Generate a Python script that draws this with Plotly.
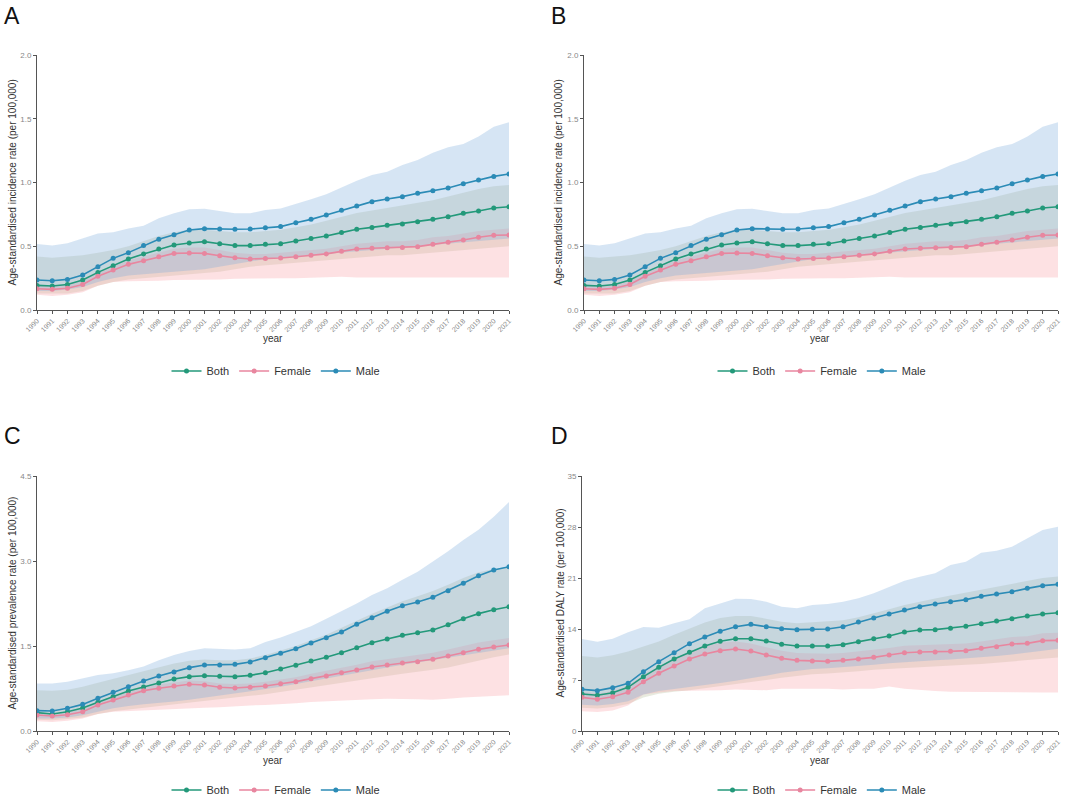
import plotly.graph_objects as go

years = list(range(1990, 2022))

# ---------- Incidence (panels A and B) ----------
inc_both = [0.193,0.188,0.2,0.235,0.295,0.348,0.4,0.44,0.478,0.51,0.525,0.536,0.52,0.505,0.505,0.515,0.52,0.541,0.56,0.58,0.607,0.633,0.648,0.664,0.675,0.693,0.711,0.732,0.758,0.776,0.8,0.81]
inc_female = [0.167,0.162,0.17,0.2,0.264,0.314,0.358,0.387,0.418,0.444,0.447,0.444,0.426,0.41,0.4,0.403,0.408,0.418,0.429,0.44,0.46,0.478,0.484,0.489,0.491,0.497,0.515,0.531,0.549,0.57,0.586,0.588]
inc_male = [0.235,0.23,0.24,0.275,0.34,0.405,0.45,0.505,0.555,0.59,0.627,0.638,0.635,0.633,0.635,0.646,0.654,0.685,0.711,0.745,0.782,0.816,0.85,0.871,0.889,0.915,0.936,0.957,0.991,1.02,1.048,1.067]
inc_both_lo = [0.13,0.13,0.13,0.15,0.19,0.22,0.24,0.25,0.26,0.27,0.28,0.29,0.30,0.32,0.34,0.35,0.36,0.37,0.38,0.39,0.40,0.41,0.42,0.43,0.43,0.44,0.45,0.46,0.47,0.48,0.49,0.50]
inc_both_hi = [0.42,0.41,0.42,0.43,0.45,0.47,0.50,0.54,0.58,0.61,0.63,0.63,0.62,0.61,0.61,0.62,0.63,0.65,0.67,0.70,0.73,0.76,0.78,0.80,0.82,0.84,0.86,0.89,0.92,0.95,0.97,0.98]
inc_female_lo = [0.12,0.11,0.12,0.14,0.19,0.22,0.225,0.23,0.23,0.235,0.235,0.24,0.24,0.245,0.245,0.25,0.25,0.25,0.255,0.255,0.26,0.255,0.25,0.25,0.25,0.25,0.25,0.25,0.25,0.255,0.255,0.255]
inc_female_hi = [0.20,0.19,0.20,0.23,0.29,0.34,0.39,0.42,0.45,0.48,0.49,0.49,0.47,0.45,0.44,0.44,0.45,0.46,0.47,0.48,0.50,0.52,0.53,0.54,0.54,0.55,0.57,0.58,0.60,0.62,0.63,0.64]
inc_male_lo = [0.15,0.15,0.16,0.18,0.22,0.25,0.27,0.28,0.29,0.30,0.31,0.32,0.34,0.36,0.38,0.40,0.41,0.42,0.43,0.44,0.45,0.46,0.47,0.48,0.49,0.50,0.51,0.52,0.53,0.54,0.55,0.56]
inc_male_hi = [0.518,0.505,0.523,0.56,0.6,0.61,0.64,0.66,0.72,0.758,0.79,0.795,0.776,0.758,0.758,0.784,0.797,0.831,0.868,0.907,0.96,1.014,1.059,1.085,1.137,1.176,1.234,1.276,1.302,1.36,1.438,1.472]

# ---------- Prevalence (panel C) ----------
prev_both = [0.324,0.3,0.341,0.406,0.506,0.606,0.706,0.776,0.847,0.918,0.959,0.976,0.965,0.959,0.982,1.029,1.094,1.159,1.235,1.3,1.382,1.471,1.559,1.624,1.688,1.735,1.782,1.876,1.982,2.071,2.141,2.194]
prev_female = [0.282,0.265,0.288,0.341,0.459,0.547,0.635,0.712,0.753,0.794,0.824,0.812,0.771,0.759,0.771,0.794,0.835,0.871,0.924,0.971,1.029,1.076,1.129,1.165,1.2,1.224,1.265,1.324,1.382,1.441,1.482,1.518]
prev_male = [0.359,0.353,0.4,0.47,0.576,0.682,0.782,0.882,0.97,1.041,1.118,1.165,1.165,1.176,1.218,1.294,1.371,1.453,1.553,1.647,1.747,1.882,2.0,2.112,2.212,2.276,2.359,2.476,2.606,2.741,2.841,2.9]
prev_both_lo = [0.20,0.19,0.21,0.24,0.30,0.35,0.39,0.42,0.45,0.48,0.51,0.54,0.56,0.59,0.62,0.65,0.68,0.72,0.76,0.80,0.85,0.89,0.93,0.97,1.01,1.05,1.08,1.12,1.18,1.24,1.30,1.35]
prev_both_hi = [0.72,0.71,0.73,0.78,0.85,0.92,0.99,1.06,1.13,1.19,1.24,1.26,1.25,1.25,1.28,1.34,1.42,1.50,1.60,1.70,1.82,1.95,2.07,2.18,2.29,2.38,2.47,2.58,2.70,2.80,2.86,2.90]
prev_female_lo = [0.17,0.16,0.18,0.22,0.30,0.34,0.36,0.37,0.38,0.39,0.40,0.41,0.42,0.43,0.45,0.46,0.47,0.49,0.51,0.52,0.54,0.55,0.56,0.57,0.57,0.56,0.55,0.57,0.59,0.61,0.62,0.63]
prev_female_hi = [0.33,0.31,0.34,0.39,0.51,0.60,0.69,0.77,0.82,0.86,0.89,0.88,0.84,0.83,0.84,0.87,0.91,0.95,1.01,1.06,1.12,1.17,1.23,1.27,1.31,1.34,1.38,1.44,1.50,1.56,1.60,1.64]
prev_male_lo = [0.22,0.22,0.24,0.28,0.34,0.40,0.44,0.47,0.50,0.52,0.55,0.58,0.62,0.66,0.70,0.74,0.78,0.82,0.87,0.92,0.97,1.02,1.07,1.12,1.17,1.21,1.25,1.29,1.34,1.38,1.42,1.46]
prev_male_hi = [0.84,0.84,0.87,0.93,0.99,1.02,1.07,1.14,1.25,1.34,1.41,1.46,1.45,1.44,1.46,1.57,1.65,1.75,1.85,1.98,2.11,2.25,2.40,2.52,2.67,2.81,2.99,3.17,3.37,3.55,3.78,4.04]

# ---------- DALY (panel D) ----------
daly_both = [5.08,4.9,5.26,5.99,7.46,8.74,9.88,10.8,11.67,12.31,12.67,12.67,12.35,11.9,11.67,11.67,11.67,11.85,12.26,12.67,13.04,13.59,13.86,13.91,14.09,14.37,14.73,15.1,15.42,15.78,16.06,16.24]
daly_female = [4.62,4.35,4.71,5.31,6.77,7.92,8.92,9.88,10.57,11.03,11.25,10.98,10.43,9.97,9.7,9.61,9.56,9.7,9.88,10.11,10.43,10.75,10.84,10.84,10.93,11.03,11.35,11.57,11.94,12.03,12.4,12.44]
daly_male = [5.72,5.54,5.95,6.54,8.14,9.52,10.75,11.99,12.9,13.68,14.32,14.64,14.32,14.05,13.91,13.95,14.0,14.32,14.96,15.51,16.06,16.61,17.07,17.43,17.75,18.03,18.48,18.8,19.12,19.58,19.95,20.13]
daly_both_lo = [3.2,3.1,3.3,3.7,4.6,5.1,5.4,5.6,5.8,6.1,6.4,6.7,7.0,7.3,7.6,7.8,7.9,8.0,8.2,8.4,8.6,8.7,8.8,8.9,9.0,9.1,9.2,9.3,9.5,9.7,9.9,10.1]
daly_both_hi = [10.3,10.1,10.4,10.9,11.6,12.3,13.2,14.0,14.9,15.5,15.8,15.8,15.4,15.0,14.8,14.9,15.0,15.2,15.6,16.1,16.7,17.3,17.8,18.2,18.6,19.0,19.4,19.9,20.3,20.7,21.0,21.2]
daly_female_lo = [2.7,2.6,2.8,3.5,5.0,5.3,5.5,5.6,5.6,5.6,5.7,5.7,5.6,5.8,5.9,5.8,5.8,5.7,5.8,5.8,6.1,5.8,5.6,5.5,5.4,5.3,5.3,5.3,5.3,5.3,5.3,5.3]
daly_female_hi = [5.4,5.1,5.5,6.2,7.7,8.9,9.9,10.9,11.6,12.1,12.3,12.0,11.5,11.0,10.7,10.6,10.6,10.7,10.9,11.1,11.4,11.7,11.8,11.8,11.9,12.0,12.3,12.6,12.9,13.0,13.4,13.5]
daly_male_lo = [3.6,3.5,3.7,4.1,5.0,5.5,5.8,6.0,6.3,6.6,6.9,7.2,7.6,8.0,8.3,8.5,8.6,8.7,8.9,9.1,9.3,9.5,9.6,9.7,9.8,9.9,10.1,10.3,10.5,10.7,11.0,11.3]
daly_male_hi = [12.63,12.26,12.67,13.54,14.27,14.18,14.78,15.33,16.84,17.52,18.16,18.12,17.75,17.07,16.84,17.29,17.43,17.75,18.21,18.9,19.81,20.63,21.18,21.64,22.78,23.24,24.48,24.75,25.3,26.44,27.59,28.05]

panel_labels = ["A", "B", "C", "D"]
y_titles = ["Age-standardised incidence rate (per 100,000)",
            "Age-standardised incidence rate (per 100,000)",
            "Age-standardised prevalence rate (per 100,000)",
            "Age-standardised DALY rate (per 100,000)"]
y_ticks = [[0.0, 0.5, 1.0, 1.5, 2.0], [0.0, 0.5, 1.0, 1.5, 2.0],
           [0.0, 1.5, 3.0, 4.5], [0, 7, 14, 21, 28, 35]]
y_ticktext = [["0.0", "0.5", "1.0", "1.5", "2.0"], ["0.0", "0.5", "1.0", "1.5", "2.0"],
              ["0.0", "1.5", "3.0", "4.5"], ["0", "7", "14", "21", "28", "35"]]

panels = [
    {"Both": (inc_both, inc_both_lo, inc_both_hi), "Female": (inc_female, inc_female_lo, inc_female_hi), "Male": (inc_male, inc_male_lo, inc_male_hi)},
    {"Both": (inc_both, inc_both_lo, inc_both_hi), "Female": (inc_female, inc_female_lo, inc_female_hi), "Male": (inc_male, inc_male_lo, inc_male_hi)},
    {"Both": (prev_both, prev_both_lo, prev_both_hi), "Female": (prev_female, prev_female_lo, prev_female_hi), "Male": (prev_male, prev_male_lo, prev_male_hi)},
    {"Both": (daly_both, daly_both_lo, daly_both_hi), "Female": (daly_female, daly_female_lo, daly_female_hi), "Male": (daly_male, daly_male_lo, daly_male_hi)},
]

W, H = 1080, 797
line_colors = {"Both": "#23997a", "Female": "#e8869f", "Male": "#2b8bb6"}
fill_colors = {"Both": "rgba(150,160,110,0.22)", "Female": "rgba(248,165,170,0.33)", "Male": "rgba(120,170,220,0.30)"}

# pixel layout of each panel: (x_left, x_right, y_top, y_bottom)
boxes = [(37, 509, 55, 310), (584, 1058, 55, 310), (37, 509, 476, 731), (582, 1058, 476, 731)]
label_pos = [(2, 1), (549, 1), (2, 421), (549, 421)]
legend_pos = [(276, 371), (822, 371), (276, 790), (822, 790)]
year_pos = [(273, 339), (820, 339), (273, 760), (820, 760)]
ytitle_x = [12, 558, 12, 560]

def px(x):
    return x / W

def py(y):
    return 1 - y / H

fig = go.Figure()
annotations = []
layout = {}
for i, data in enumerate(panels):
    n = i + 1
    xa = "x" if n == 1 else f"x{n}"
    ya = "y" if n == 1 else f"y{n}"
    leg = "legend" if n == 1 else f"legend{n}"
    for name in ["Both", "Female", "Male"]:
        mean, lo, hi = data[name]
        fig.add_trace(go.Scatter(x=years + years[::-1], y=hi + lo[::-1], fill="toself",
                                 fillcolor=fill_colors[name], line=dict(width=0),
                                 mode="lines", hoverinfo="skip", showlegend=False,
                                 xaxis=xa, yaxis=ya))
    for name in ["Both", "Female", "Male"]:
        mean, lo, hi = data[name]
        fig.add_trace(go.Scatter(x=years, y=mean, mode="lines+markers", name=name,
                                 line=dict(color=line_colors[name], width=1.6),
                                 marker=dict(color=line_colors[name], size=5),
                                 xaxis=xa, yaxis=ya, legend=leg))
    x0, x1, y0, y1 = boxes[i]
    ymax = y_ticks[i][-1]
    axis_common = dict(showline=True, linecolor="#555555", linewidth=1, ticks="outside",
                       ticklen=3, tickcolor="#555555", showgrid=False, zeroline=False,
                       automargin=False)
    layout["xaxis" if n == 1 else f"xaxis{n}"] = dict(
        domain=[px(x0), px(x1)], anchor=ya, range=[1990, 2021],
        tickvals=years, ticktext=[str(y) for y in years], tickangle=-45,
        tickfont=dict(size=7, color="#888888", family="Liberation Sans, Arial"),
        **axis_common)
    layout["yaxis" if n == 1 else f"yaxis{n}"] = dict(
        domain=[py(y1), py(y0)], anchor=xa, range=[0, ymax],
        tickvals=y_ticks[i], ticktext=y_ticktext[i],
        tickfont=dict(size=8, color="#888888", family="Liberation Sans, Arial"),
        **axis_common)
    lx, ly = legend_pos[i]
    layout[leg] = dict(orientation="h", x=px(lx), y=py(ly), xanchor="center", yanchor="middle",
                       font=dict(size=11, color="#333333", family="Liberation Sans, Arial"),
                       bgcolor="rgba(0,0,0,0)", itemwidth=30)
    ax, ay = label_pos[i]
    annotations.append(dict(text=panel_labels[i], x=px(ax), y=py(ay), xref="paper", yref="paper",
                            xanchor="left", yanchor="top", showarrow=False,
                            font=dict(size=23, color="#111111", family="Liberation Sans, Arial")))
    yx, yy = year_pos[i]
    annotations.append(dict(text="year", x=px(yx), y=py(yy), xref="paper", yref="paper",
                            xanchor="center", yanchor="middle", showarrow=False,
                            font=dict(size=10, color="#333333", family="Liberation Sans, Arial")))
    annotations.append(dict(text=y_titles[i], x=px(ytitle_x[i]), y=py((y0 + y1) / 2),
                            xref="paper", yref="paper", xanchor="center", yanchor="middle",
                            textangle=-90, showarrow=False,
                            font=dict(size=10, color="#333333", family="Liberation Sans, Arial")))

fig.update_layout(**layout)
fig.update_layout(width=W, height=H, margin=dict(l=0, r=0, t=0, b=0, autoexpand=False),
                  paper_bgcolor="white", plot_bgcolor="white",
                  annotations=annotations, showlegend=True)
fig.write_html("out.html", config={"displayModeBar": False},
               post_script="document.body.style.margin='0';document.body.style.overflow='hidden';")
